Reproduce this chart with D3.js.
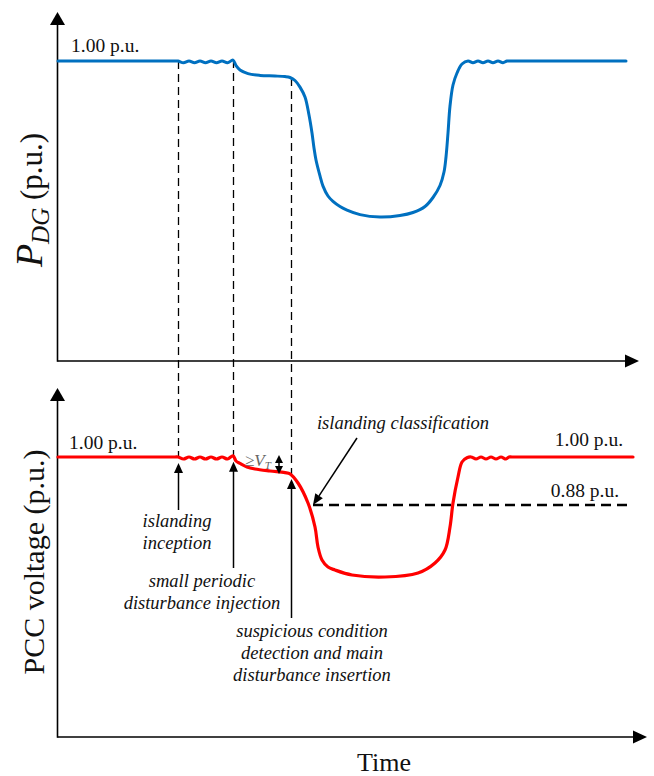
<!DOCTYPE html>
<html><head><meta charset="utf-8">
<script src="https://cdn.jsdelivr.net/npm/d3@7"></script>
<style>body{margin:0;background:#fff;} svg{display:block;}</style>
</head><body>
<script>
// ---- data (time in arbitrary units, values in p.u.) ----
const timeBlue = [0,60,117,120,125.5,131,136.5,142,147.5,153,158.5,164,169.5,175,178,182,190,202,217,227,232,237,242,247,251,254,256,258,262,265,270,275,282,289,302,322,342,355,367,375,382,386,388,390,392,395,399,404,410,415,420,425,430,435,440,445,449,452,510,568];
const pdgValues = [1,1,1,1,0.994,1,0.994,1,0.994,1,0.994,1,0.994,1.003,0.985,0.97,0.958,0.952,0.95,0.948,0.945,0.935,0.913,0.88,0.82,0.76,0.71,0.67,0.617,0.583,0.55,0.532,0.515,0.503,0.488,0.48,0.485,0.495,0.515,0.545,0.585,0.63,0.68,0.76,0.85,0.92,0.96,0.99,1,0.994,1,0.994,1,0.994,1,0.994,1,1,1,1];
const timeRed = [0,60,117,120,125.5,131,136.5,142,147.5,153,158.5,164,169.5,175,178,182,189,197,212,227,232,240,250,257,260,264,270,277,294,327,360,377,387,392,395,400,404,409,413,418,423,428,433,438,443,448,451,454,515,575];
const voltValues = [1,1,1,1,0.995,1,0.995,1,0.995,1,0.995,1,0.995,1.003,0.99,0.984,0.975,0.97,0.965,0.961,0.958,0.935,0.885,0.825,0.775,0.7425,0.725,0.7175,0.705,0.70,0.71,0.735,0.7675,0.825,0.885,0.95,0.9875,0.998,1,0.995,1,0.995,1,0.995,1,0.995,1,1,1,1];
const eventTimes = [120, 175, 233];
const eventLabels = [["islanding","inception"],["small periodic","disturbance injection"],["suspicious condition","detection and main","disturbance insertion"]];
const classificationTime = 255;
const thresholdValue = 0.88;
const thresholdEnd = 570;
const nominalValue = 1.0;
const plateauValue = 0.96;
const vtTime = 221;
const unitLabel = "1.00 p.u.";
const thresholdLabel = "0.88 p.u.";

const W = 654, H = 776;
const svg = d3.select("body").append("svg").attr("width", W).attr("height", H);
const serif = "'Liberation Serif','Times New Roman',serif";

const x = d3.scaleLinear().domain([0, 582]).range([58, 640]);
const yTop = d3.scaleLinear().domain([0, 1]).range([361, 61]);
const yBot = d3.scaleLinear().domain([0.3, 1]).range([737, 457]);

const blue = "#0070C0", red = "#FF0000";

// ---- dashed event guides ----
const topPts = timeBlue.map((t,i)=>({t, v:pdgValues[i]}));
const botPts = timeRed.map((t,i)=>({t, v:voltValues[i]}));
function interp(pts, t){
  for(let i=1;i<pts.length;i++){ if(pts[i].t>=t){ const a=pts[i-1], b=pts[i]; const f=(t-a.t)/(b.t-a.t||1); return a.v+(b.v-a.v)*f; } }
  return pts[pts.length-1].v;
}
eventTimes.forEach(t=>{
  svg.append("line").attr("x1", x(t)+0.5).attr("x2", x(t)+0.5)
    .attr("y1", yTop(interp(topPts,t))).attr("y2", yBot(interp(botPts,t)))
    .attr("stroke","#000").attr("stroke-width",1.3).attr("stroke-dasharray","8,5");
});

// ---- axes ----
function upArrow(xx, yy, w, h){ svg.append("path").attr("d",`M${xx},${yy}L${xx-w/2},${yy+h}L${xx+w/2},${yy+h}Z`).attr("fill","#000"); }
function rightArrow(xx, yy, w, h){ svg.append("path").attr("d",`M${xx},${yy}L${xx-h},${yy-w/2}L${xx-h},${yy+w/2}Z`).attr("fill","#000"); }
function axisLines(yScale, tipY, tipX){
  const y0 = yScale.range()[0];
  svg.append("line").attr("x1",57.5).attr("x2",57.5).attr("y1",y0+0.75).attr("y2",tipY+10).attr("stroke","#000").attr("stroke-width",1.6);
  svg.append("line").attr("x1",57.5).attr("x2",tipX-10).attr("y1",y0).attr("y2",y0).attr("stroke","#000").attr("stroke-width",1.6);
  upArrow(57.5, tipY, 15, 13);
  rightArrow(tipX, y0, 13, 14);
}
axisLines(yTop, 12, 639);
axisLines(yBot, 388, 647);

// ---- threshold dashed line ----
svg.append("line").attr("x1", x(classificationTime)).attr("x2", x(thresholdEnd))
  .attr("y1", yBot(thresholdValue)).attr("y2", yBot(thresholdValue))
  .attr("stroke","#000").attr("stroke-width",2.5).attr("stroke-dasharray","10,6");

// ---- curves ----
const lineTop = d3.line().x(d=>x(d.t)).y(d=>yTop(d.v)).curve(d3.curveCatmullRom.alpha(0.5));
const lineBot = d3.line().x(d=>x(d.t)).y(d=>yBot(d.v)).curve(d3.curveCatmullRom.alpha(0.5));
svg.append("path").attr("d", lineTop(topPts)).attr("fill","none").attr("stroke",blue).attr("stroke-width",3).attr("stroke-linecap","round");
svg.append("path").attr("d", lineBot(botPts)).attr("fill","none").attr("stroke",red).attr("stroke-width",3.2).attr("stroke-linecap","round");

// ---- event arrows & labels ----
const arrowBottoms = [510, 568, 618];
const tipOffsets = [6, 6, 4];
const labelCenters = [177, 202, 312];
const labelFirstBase = [527, 587, 637];
eventTimes.forEach((t,i)=>{
  const tipY = yBot(interp(botPts,t)) + tipOffsets[i];
  svg.append("line").attr("x1",x(t)+0.5).attr("x2",x(t)+0.5).attr("y1",arrowBottoms[i]).attr("y2",tipY+8).attr("stroke","#000").attr("stroke-width",1.5);
  upArrow(x(t)+0.5, tipY, 9, 10);
  const txt = svg.append("text").attr("font-family",serif).attr("font-style","italic").attr("font-size",18.5)
    .attr("text-anchor","middle").attr("fill","#111");
  eventLabels[i].forEach((s,j)=>{
    txt.append("tspan").attr("x",labelCenters[i]).attr("y",labelFirstBase[i]+j*22).text(s);
  });
});

// ---- classification arrow ----
{
  const tx = x(classificationTime), ty = yBot(thresholdValue);
  const sx = 357, sy = 438;
  const ang = Math.atan2(ty-sy, tx-sx);
  const hl = 11, hw = 4.5;
  const bx = tx - hl*Math.cos(ang), by = ty - hl*Math.sin(ang);
  svg.append("line").attr("x1",sx).attr("y1",sy).attr("x2",bx).attr("y2",by).attr("stroke","#000").attr("stroke-width",1.5);
  svg.append("path").attr("d",`M${tx},${ty}L${bx+hw*Math.sin(ang)},${by-hw*Math.cos(ang)}L${bx-hw*Math.sin(ang)},${by+hw*Math.cos(ang)}Z`).attr("fill","#000");
  svg.append("text").attr("x",403).attr("y",429).attr("text-anchor","middle").attr("font-family",serif)
    .attr("font-style","italic").attr("font-size",18.5).attr("fill","#111").text("islanding classification");
}

// ---- ≥V_T double arrow ----
{
  const xx = x(vtTime), y1 = yBot(nominalValue), y2 = yBot(plateauValue);
  svg.append("line").attr("x1",xx).attr("x2",xx).attr("y1",y1+5).attr("y2",y2-5).attr("stroke","#000").attr("stroke-width",1.5);
  svg.append("path").attr("d",`M${xx},${y1-2}L${xx-4},${y1+6}L${xx+4},${y1+6}Z`).attr("fill","#000");
  svg.append("path").attr("d",`M${xx},${y2+1}L${xx-4},${y2-7}L${xx+4},${y2-7}Z`).attr("fill","#000");
  const t = svg.append("text").attr("x",245).attr("y",466).attr("font-family",serif).attr("font-size",17).attr("fill","#666");
  t.append("tspan").text("≥");
  t.append("tspan").attr("font-style","italic").text("V");
  t.append("tspan").attr("font-style","italic").attr("font-size",11).attr("dy",3).text("T");
}

// ---- value labels ----
function label(tx, ty, s, anchor){ svg.append("text").attr("x",tx).attr("y",ty).attr("text-anchor",anchor||"start").attr("font-family",serif).attr("font-size",19.5).attr("fill","#111").text(s); }
label(71, 52, unitLabel);
label(69, 449, unitLabel);
label(623, 446, unitLabel, "end");
label(619, 497, thresholdLabel, "end");

// ---- axis titles ----
{
  const t = svg.append("text").attr("transform","translate(42,200) rotate(-90)").attr("text-anchor","middle")
    .attr("font-family",serif).attr("font-size",31).attr("fill","#111");
  t.append("tspan").attr("font-style","italic").attr("font-size",38).text("P");
  t.append("tspan").attr("font-style","italic").attr("font-size",25).attr("dy",7).text("DG");
  t.append("tspan").attr("dy",-7).text(" (p.u.)");
  svg.append("text").attr("transform","translate(44,562) rotate(-90)").attr("text-anchor","middle")
    .attr("font-family",serif).attr("font-size",30).attr("fill","#111").text("PCC voltage (p.u.)");
  svg.append("text").attr("x",384).attr("y",771).attr("text-anchor","middle")
    .attr("font-family",serif).attr("font-size",26).attr("fill","#111").text("Time");
}
</script>
</body></html>
